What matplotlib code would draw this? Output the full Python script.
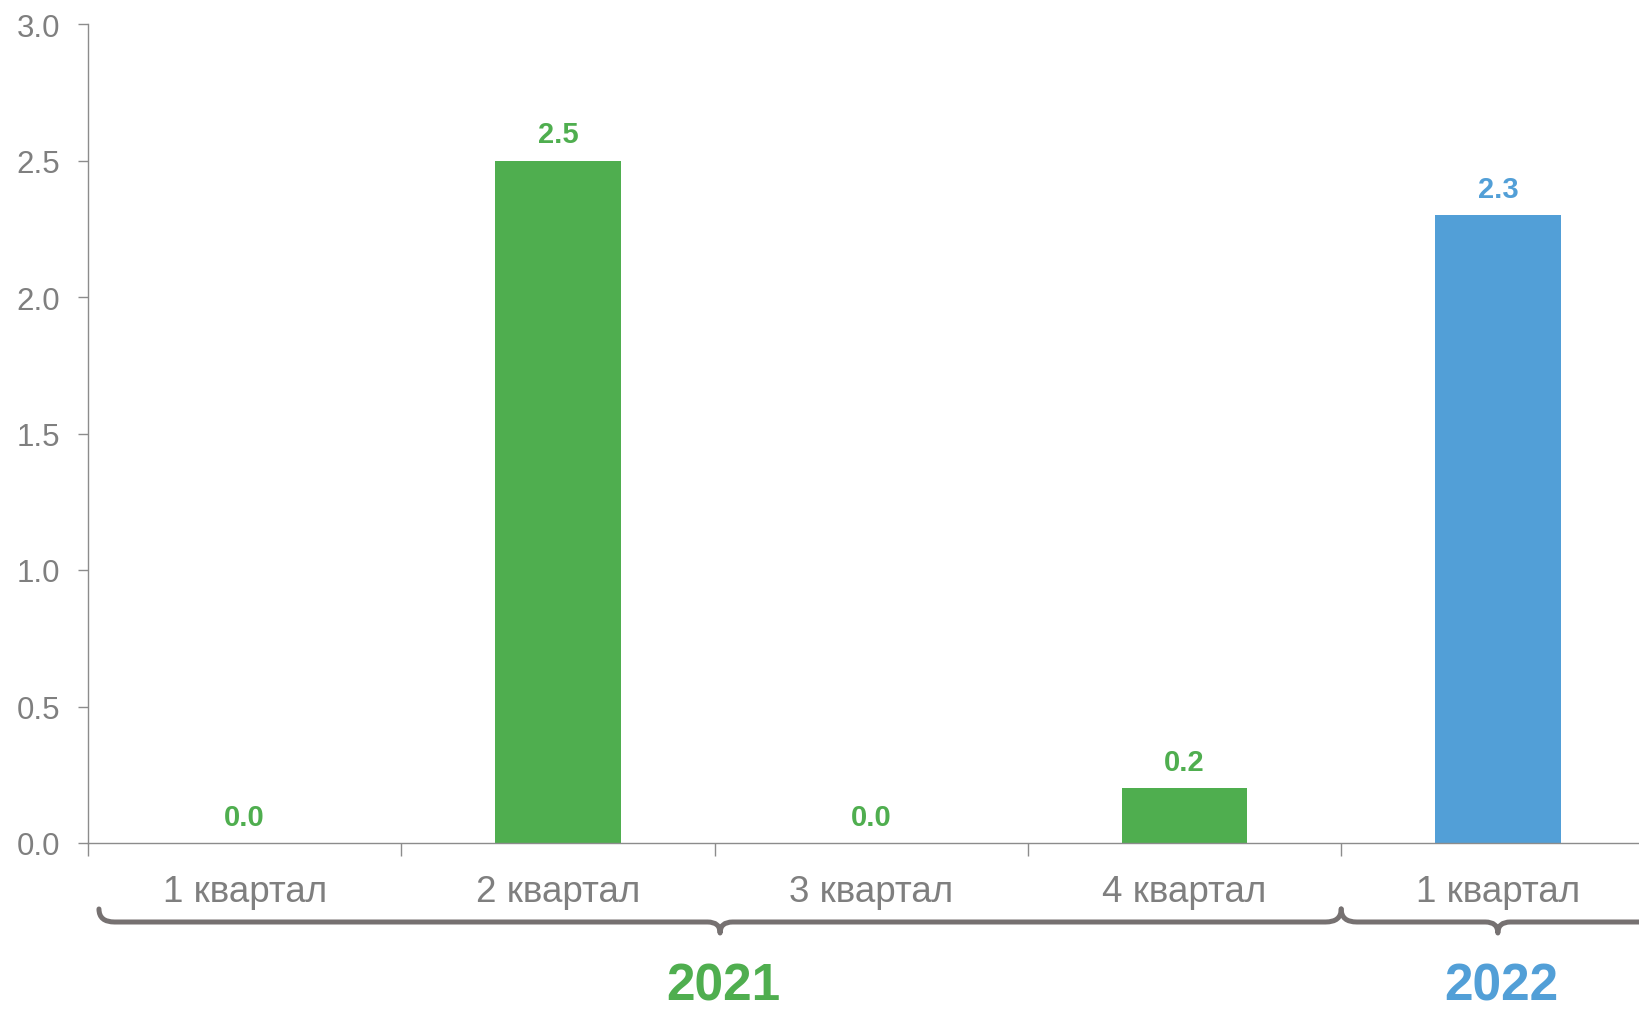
import numpy as np
import matplotlib
matplotlib.use("Agg")
import matplotlib.pyplot as plt
from matplotlib.path import Path
from matplotlib.patches import PathPatch
import matplotlib.transforms as mtransforms

plt.rcParams['font.family'] = ['Liberation Sans', 'DejaVu Sans']

# Данные
quarters = ["1 квартал", "2 квартал", "3 квартал", "4 квартал", "1 квартал"]
values = [0.0, 2.5, 0.0, 0.2, 2.3]
years = ["2021", "2022"]
year_quarters = [4, 1]  # сколько кварталов в каждом году

GREEN = "#4FAE4F"
BLUE = "#529FD7"
GRAY = "#7F7F7F"
BRACE = "#767171"
year_colors = [GREEN, BLUE]
bar_colors = [GREEN] * year_quarters[0] + [BLUE] * year_quarters[1]

fig = plt.figure(figsize=(16.39, 10.12), dpi=100)
ax = fig.add_axes([88 / 1639, 1 - 844 / 1012, 1566.5 / 1639, (844 - 25) / 1012])

x = np.arange(len(values))
ax.bar(x, values, width=0.4, color=bar_colors)

# подписи значений
for xi, v, c in zip(x, values, bar_colors):
    ax.annotate(f"{v:.1f}", (xi, v), xytext=(0, 13), textcoords="offset points",
                ha="center", va="baseline", fontsize=21, fontweight="bold", color=c)

ax.set_xlim(-0.5, len(values) - 0.5)
ax.set_ylim(0, 3.0)
ax.set_yticks(np.arange(0, 3.01, 0.5))
ax.set_yticklabels([f"{t:.1f}" for t in np.arange(0, 3.01, 0.5)])

ax.set_xticks(x)
ax.set_xticklabels(quarters)
ax.set_xticks(np.arange(-0.5, len(values) - 0.4, 1.0), minor=True)
ax.tick_params(axis="x", which="major", length=0, pad=22, labelsize=26.5, labelcolor=GRAY)
ax.tick_params(axis="x", which="minor", length=9, width=1.0, color="#8C8C8C")
ax.tick_params(axis="y", length=7, width=1.0, color="#8C8C8C", pad=13,
               labelsize=22.5, labelcolor=GRAY)

for s in ["top", "right"]:
    ax.spines[s].set_visible(False)
for s in ["left", "bottom"]:
    ax.spines[s].set_color("#8C8C8C")
    ax.spines[s].set_linewidth(1.0)

# фигурные скобки под годами
trans = mtransforms.blended_transform_factory(ax.transData, fig.transFigure)
y_line = 1 - 923 / 1012
y_top = 1 - 910 / 1012
y_tip = 1 - 934 / 1012
r_end = 0.05
r_mid = 0.04


def brace(x0, x1):
    xm = (x0 + x1) / 2
    verts = [(x0, y_top), (x0, y_line), (x0 + r_end, y_line),
             (xm - r_mid, y_line),
             (xm, y_line), (xm, y_tip),
             (xm, y_line), (xm + r_mid, y_line),
             (x1 - r_end, y_line),
             (x1, y_line), (x1, y_top)]
    codes = [Path.MOVETO, Path.CURVE3, Path.CURVE3,
             Path.LINETO,
             Path.CURVE3, Path.CURVE3,
             Path.CURVE3, Path.CURVE3,
             Path.LINETO,
             Path.CURVE3, Path.CURVE3]
    patch = PathPatch(Path(verts, codes), transform=trans, fill=False,
                      edgecolor=BRACE, linewidth=3.6, capstyle="round",
                      joinstyle="round", clip_on=False)
    fig.add_artist(patch)
    return xm


start = -0.5
for yr, n, c in zip(years, year_quarters, year_colors):
    x0 = start + 0.035 if start == -0.5 else start
    x1 = start + n
    xm = brace(x0, x1)
    fig.text(xm + 0.01, 1 - 1001 / 1012, yr, transform=trans, ha="center", va="baseline",
             fontsize=37, fontweight="bold", color=c)
    start = x1

fig.savefig("out.png", dpi=100)
